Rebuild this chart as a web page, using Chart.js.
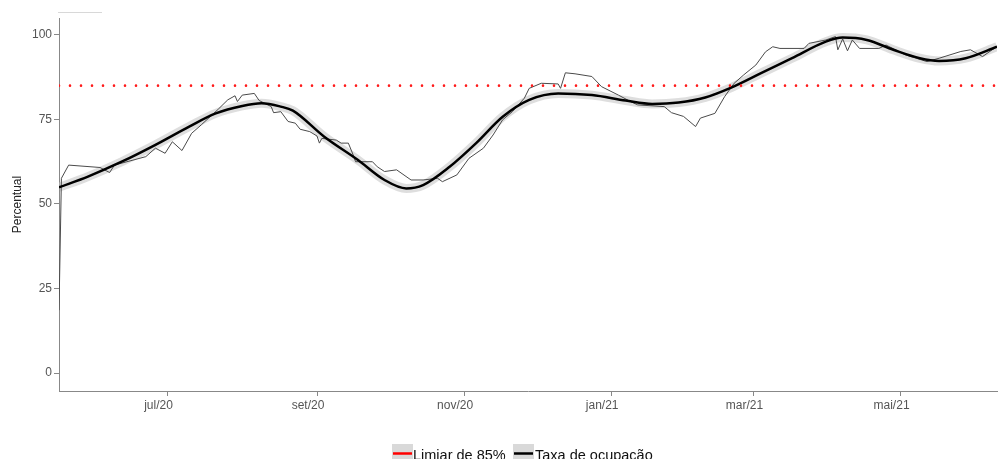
<!DOCTYPE html>
<html>
<head>
<meta charset="utf-8">
<script src="https://cdn.jsdelivr.net/npm/chart.js@4.4.1/dist/chart.umd.min.js"></script>
<style>
  html, body { margin: 0; padding: 0; background: #fff; }
  #wrap { width: 1000px; height: 459px; position: relative; }
</style>
</head>
<body>
<div id="wrap"><canvas id="grafico"></canvas></div>
<script>
// Dados
const rawDates = [
  '2020-05-17', '2020-05-18', '2020-05-21', '2020-06-03', '2020-06-07', '2020-06-09', '2020-06-22', '2020-06-26',
  '2020-06-30', '2020-07-03', '2020-07-07', '2020-07-11', '2020-07-15', '2020-07-22', '2020-07-26', '2020-07-29',
  '2020-07-30', '2020-08-01', '2020-08-06', '2020-08-08', '2020-08-13', '2020-08-14', '2020-08-17', '2020-08-20',
  '2020-08-23', '2020-08-25', '2020-08-29', '2020-09-01', '2020-09-02', '2020-09-03', '2020-09-09', '2020-09-11',
  '2020-09-14', '2020-09-16', '2020-09-17', '2020-09-24', '2020-09-26', '2020-09-29', '2020-10-04', '2020-10-10',
  '2020-10-15', '2020-10-21', '2020-10-23', '2020-10-29', '2020-11-03', '2020-11-09', '2020-11-13', '2020-11-17',
  '2020-11-21', '2020-11-26', '2020-11-28', '2020-12-03', '2020-12-10', '2020-12-11', '2020-12-13', '2020-12-17',
  '2020-12-24', '2020-12-28', '2021-01-04', '2021-01-09', '2021-01-12', '2021-01-23', '2021-01-26', '2021-01-31',
  '2021-02-05', '2021-02-07', '2021-02-13', '2021-02-17', '2021-02-21', '2021-02-25', '2021-03-02', '2021-03-06',
  '2021-03-09', '2021-03-12', '2021-03-22', '2021-03-24', '2021-03-31', '2021-04-04', '2021-04-05', '2021-04-07',
  '2021-04-09', '2021-04-11', '2021-04-14', '2021-04-22', '2021-04-25', '2021-05-03', '2021-05-12', '2021-05-17',
  '2021-05-26', '2021-05-30', '2021-06-04', '2021-06-08', '2021-06-10'
];
const rawValues = [
  18.6, 57.6, 61.5, 60.8, 59.3, 61.5, 64.0, 66.5,
  65.0, 68.4, 65.8, 70.9, 73.4, 78.0, 80.8, 82.0,
  80.3, 82.2, 82.7, 80.6, 78.8, 77.0, 77.3, 74.4,
  73.9, 72.1, 71.4, 70.1, 68.0, 69.4, 68.9, 68.0,
  68.0, 64.5, 62.5, 62.5, 61.0, 59.6, 60.1, 57.1,
  57.1, 57.6, 56.6, 58.6, 63.5, 66.5, 70.4, 74.9,
  77.3, 81.3, 84.2, 85.7, 85.5, 84.2, 88.8, 88.5,
  87.7, 84.7, 82.2, 80.3, 79.3, 78.8, 77.0, 75.9,
  72.9, 75.4, 76.8, 81.7, 85.7, 88.2, 91.1, 95.0,
  96.5, 96.0, 96.0, 97.5, 98.5, 99.5, 95.6, 98.8,
  95.3, 98.5, 96.0, 96.0, 97.0, 94.1, 92.1, 93.1,
  95.1, 95.6, 93.6, 95.6, 96.5
];

const smoothDates = [
  '2020-05-17', '2020-05-29', '2020-06-12', '2020-06-26', '2020-07-10', '2020-07-21', '2020-08-01', '2020-08-09',
  '2020-08-17', '2020-08-22', '2020-09-04', '2020-09-18', '2020-09-29', '2020-10-08', '2020-10-15', '2020-10-26',
  '2020-11-06', '2020-11-17', '2020-11-28', '2020-12-10', '2020-12-24', '2021-01-07', '2021-01-18', '2021-01-29',
  '2021-02-09', '2021-02-20', '2021-03-05', '2021-03-17', '2021-03-31', '2021-04-07', '2021-04-17', '2021-04-28',
  '2021-05-09', '2021-05-17', '2021-05-28', '2021-06-10'
];
const smoothValues = [
  54.9, 58.1, 62.5, 67.5, 72.9, 76.8, 79.0, 79.8,
  78.8, 77.6, 69.9, 63.0, 57.1, 54.6, 55.6, 61.0,
  68.0, 75.8, 80.8, 82.7, 82.2, 80.6, 79.6, 80.0,
  81.5, 84.5, 89.0, 93.1, 98.0, 99.2, 98.5, 95.6,
  93.1, 92.3, 93.1, 96.5
];

const limiar = 85;
const xStart = '2020-05-17';
const xEnd = '2021-06-10';
const xTickDates = ['2020-07-01', '2020-09-01', '2020-11-01', '2021-01-01', '2021-03-01', '2021-05-01'];
const xTickLabels = ['jul/20', 'set/20', 'nov/20', 'jan/21', 'mar/21', 'mai/21'];
const yTicks = [0, 25, 50, 75, 100];
const legendLabels = ['Limiar de 85%', 'Taxa de ocupação'];

// dias a partir de 01/07/2020
function dia(s) {
  const [a, m, d] = s.split('-').map(Number);
  return (Date.UTC(a, m - 1, d) - Date.UTC(2020, 6, 1)) / 86400000;
}

const pontosBrutos = rawDates.map((d, i) => ({ x: dia(d), y: rawValues[i] }));
const pontosSuaves = smoothDates.map((d, i) => ({ x: dia(d), y: smoothValues[i] }));
const pontosLimiar = [{ x: dia(xStart), y: limiar }, { x: dia(xEnd), y: limiar }];

const FONTE = '"Liberation Sans", Arial, sans-serif';

// legenda no rodapé + traço cinza no topo
const extras = {
  id: 'extras',
  afterDraw(chart) {
    const ctx = chart.ctx;
    ctx.save();
    ctx.strokeStyle = '#d8d8d8';
    ctx.lineWidth = 1;
    ctx.beginPath();
    ctx.moveTo(58, 12.5);
    ctx.lineTo(102, 12.5);
    ctx.stroke();

    ctx.font = '14.5px ' + FONTE;
    ctx.textBaseline = 'alphabetic';
    const itens = [
      { box: 392, cor: '#ff0000', texto: legendLabels[0], tx: 413 },
      { box: 513, cor: '#000000', texto: legendLabels[1], tx: 535 }
    ];
    itens.forEach(it => {
      ctx.fillStyle = '#d9d9d9';
      ctx.fillRect(it.box, 444, 21, 16);
      ctx.strokeStyle = it.cor;
      ctx.lineWidth = 2.5;
      ctx.beginPath();
      ctx.moveTo(it.box + 1, 453.5);
      ctx.lineTo(it.box + 20, 453.5);
      ctx.stroke();
      ctx.fillStyle = '#111';
      ctx.fillText(it.texto, it.tx, 459.5);
    });
    ctx.restore();
  }
};

new Chart(document.getElementById('grafico'), {
  type: 'line',
  data: {
    datasets: [
      {
        label: 'Limiar de 85%',
        data: pontosLimiar,
        borderColor: '#ff1a1a',
        borderWidth: 2.6,
        borderDash: [0, 11],
        borderCapStyle: 'round',
        pointRadius: 0,
        order: 0
      },
      {
        label: 'Taxa de ocupação',
        data: pontosSuaves,
        borderColor: '#000',
        borderWidth: 2.5,
        cubicInterpolationMode: 'monotone',
        pointRadius: 0,
        order: 1
      },
      {
        label: 'Diário',
        data: pontosBrutos,
        borderColor: '#4a4a4a',
        borderWidth: 1,
        tension: 0,
        pointRadius: 0,
        order: 2
      },
      {
        label: 'Banda',
        data: pontosSuaves,
        borderColor: 'rgba(195, 195, 195, 0.55)',
        borderWidth: 9,
        cubicInterpolationMode: 'monotone',
        pointRadius: 0,
        order: 3
      }
    ]
  },
  plugins: [extras],
  options: {
    responsive: true,
    maintainAspectRatio: false,
    animation: false,
    layout: { padding: { left: 0, right: 3, top: 18, bottom: 0 } },
    plugins: {
      legend: { display: false },
      tooltip: { enabled: false }
    },
    scales: {
      x: {
        type: 'linear',
        min: dia(xStart),
        max: dia(xEnd),
        afterBuildTicks: s => { s.ticks = xTickDates.map(d => ({ value: dia(d) })); },
        afterFit: s => { s.height = 68; },
        ticks: {
          autoSkip: false,
          maxRotation: 0,
          labelOffset: -9,
          padding: 2,
          color: '#555',
          font: { family: FONTE, size: 12 },
          callback: (v, i) => xTickLabels[i]
        },
        grid: { display: true, drawOnChartArea: false, drawTicks: true, tickLength: 5, color: '#888' },
        border: { display: true, color: '#888', width: 1 }
      },
      y: {
        min: -5.3,
        max: 105,
        afterBuildTicks: s => { s.ticks = yTicks.map(v => ({ value: v })); },
        afterFit: s => { s.width = 59; },
        ticks: {
          padding: 2,
          color: '#555',
          font: { family: FONTE, size: 12 }
        },
        grid: { display: true, drawOnChartArea: false, drawTicks: true, tickLength: 5, color: '#888' },
        border: { display: true, color: '#888', width: 1 },
        title: {
          display: true,
          text: 'Percentual',
          color: '#222',
          font: { family: FONTE, size: 12 },
          padding: { top: 10, bottom: 0 }
        }
      }
    }
  }
});
</script>
</body>
</html>
